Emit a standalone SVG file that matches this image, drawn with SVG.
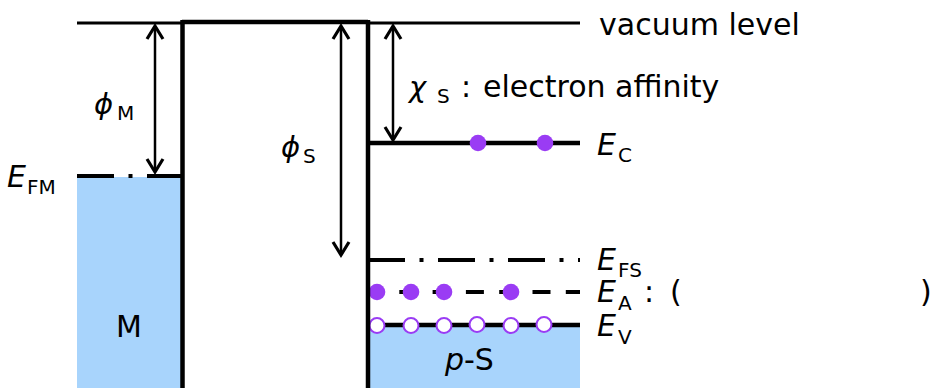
<svg xmlns="http://www.w3.org/2000/svg" width="934" height="388" viewBox="0 0 934 388">
<style>
.t{font-family:"DejaVu Sans","Liberation Sans",sans-serif;fill:#000}
.b{font-size:30px}
.s{font-size:20px}
.i{font-style:italic}
.ln{stroke:#000;fill:none}
.fill{fill:#a8d4fc}
.e{fill:#9a3cf4}
.h{fill:#fff;stroke:#9a3cf4;stroke-width:2}
.arr{stroke:#000;stroke-width:2.5;fill:none;marker-start:url(#ah);marker-end:url(#ah)}
</style>
<defs>
<marker id="ah" viewBox="-16 -10 20 20" refX="0" refY="0" markerWidth="20" markerHeight="20" markerUnits="userSpaceOnUse" orient="auto-start-reverse">
<path d="M-13,-8 L0,0 L-13,8" fill="none" stroke="#000" stroke-width="3.2"/>
</marker>
</defs>
<rect width="934" height="388" fill="#fff"/>

<g id="metal">
<rect class="fill" x="77" y="177" width="105" height="211"/>
<line class="ln" x1="77" y1="176" x2="182" y2="176" stroke-width="4" stroke-dasharray="37 14.5 4 14.5"/>
<text class="t b" x="116" y="337">M</text>
<text class="t b i" x="7" y="187">E</text>
<text class="t s" x="27" y="194">FM</text>
</g>

<g id="vacuum-level">
<line class="ln" x1="77" y1="23" x2="182" y2="23" stroke-width="3"/>
<line class="ln" x1="368" y1="23" x2="580" y2="23" stroke-width="3"/>
<text class="t b" x="599" y="35">vacuum level</text>
</g>

<g id="semiconductor">
<rect class="fill" x="368" y="327" width="212" height="61"/>
<line class="ln" x1="368" y1="143" x2="580" y2="143" stroke-width="4.5"/>
<line class="ln" x1="368" y1="260" x2="580" y2="260" stroke-width="4" stroke-dasharray="37 14.5 4 14.5"/>
<line class="ln" x1="366" y1="292" x2="580" y2="292" stroke-width="4" stroke-dasharray="18 15.3"/>
<line class="ln" x1="368" y1="325" x2="580" y2="325" stroke-width="4.5"/>
<circle class="e" cx="478" cy="143" r="8.3"/>
<circle class="e" cx="545" cy="143" r="8.3"/>
<circle class="e" cx="377" cy="292" r="8.3"/>
<circle class="e" cx="411" cy="292" r="8.3"/>
<circle class="e" cx="444" cy="292" r="8.3"/>
<circle class="e" cx="511" cy="292" r="8.3"/>
<circle class="h" cx="377" cy="325.5" r="7.5"/>
<circle class="h" cx="411" cy="325.5" r="7.5"/>
<circle class="h" cx="444" cy="325.5" r="7.5"/>
<circle class="h" cx="477" cy="324.5" r="7.5"/>
<circle class="h" cx="511" cy="325.5" r="7.5"/>
<circle class="h" cx="544" cy="324.5" r="7.5"/>
<text class="t b" x="445" y="370"><tspan class="i">p</tspan>-S</text>
<text class="t b i" x="597" y="155">E</text>
<text class="t s" x="618" y="162">C</text>
<text class="t b i" x="597" y="270">E</text>
<text class="t s" x="618" y="277">FS</text>
<text class="t b i" x="597" y="302">E</text>
<text class="t s" x="618" y="310">A</text>
<text class="t b" x="644" y="302">:</text>
<text class="t b" x="670" y="302">(</text>
<text class="t b" x="920" y="302">)</text>
<text class="t b i" x="597" y="336">E</text>
<text class="t s" x="618" y="344">V</text>
</g>

<g id="barrier">
<line class="ln" x1="182" y1="22" x2="368" y2="22" stroke-width="4.5"/>
<line class="ln" x1="182.5" y1="20" x2="182.5" y2="388" stroke-width="4.5"/>
<line class="ln" x1="368" y1="20" x2="368" y2="388" stroke-width="4.5"/>
</g>

<g id="connectors">
<line class="arr" x1="155" y1="26" x2="155" y2="172"/>
<line class="arr" x1="341" y1="26" x2="341" y2="255"/>
<line class="arr" x1="393" y1="26" x2="393" y2="140"/>
</g>

<g id="labels">
<text class="t i" font-size="29" x="94" y="114">ϕ</text>
<text class="t s" x="117" y="119.5">M</text>
<text class="t i" font-size="29" x="281" y="157">ϕ</text>
<text class="t s" x="303" y="163">S</text>
<text class="t i" font-size="29" x="409" y="97">χ</text>
<text class="t s" x="437" y="103">S</text>
<text class="t b" x="461" y="97">:</text>
<text class="t b" x="483" y="97">electron affinity</text>
</g>
</svg>
